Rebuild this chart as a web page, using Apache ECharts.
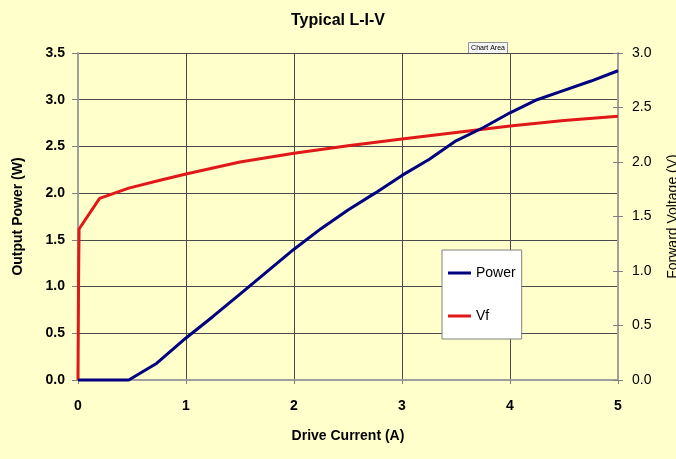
<!DOCTYPE html>
<html>
<head>
<meta charset="utf-8">
<script src="https://cdn.jsdelivr.net/npm/echarts@6/dist/echarts.min.js"></script>
<style>
html,body{margin:0;padding:0;background:#FFFFCC;}
#chart{width:676px;height:459px;}
</style>
</head>
<body>
<div id="chart"></div>
<script>
// Data
const currentTicks = [0, 1, 2, 3, 4, 5];
const powerX = [0, 0.25, 0.47, 0.73, 1.0, 1.25, 1.5, 1.75, 2.0, 2.25, 2.5, 2.75, 3.0, 3.25, 3.5, 3.75, 4.0, 4.25, 4.5, 4.75, 5.0];
const powerY = [0, 0, 0, 0.18, 0.45, 0.68, 0.92, 1.16, 1.40, 1.62, 1.82, 2.0, 2.19, 2.36, 2.56, 2.70, 2.86, 3.0, 3.10, 3.20, 3.31];
const vfX = [0, 0.005, 0.01, 0.2, 0.47, 0.75, 1.0, 1.5, 2.0, 2.5, 3.0, 3.5, 4.0, 4.5, 5.0];
const vfY = [0, 0.9, 1.385, 1.667, 1.76, 1.83, 1.89, 2.0, 2.08, 2.15, 2.21, 2.27, 2.33, 2.38, 2.42];

const powerData = powerX.map((x, i) => [x, powerY[i]]);
const vfData = vfX.map((x, i) => [x, vfY[i]]);

const FONT = '"Liberation Sans", Arial, sans-serif';
const chart = echarts.init(document.getElementById('chart'), null, {renderer: 'canvas'});
chart.setOption({
  backgroundColor: '#FFFFCC',
  animation: false,
  textStyle: {fontFamily: FONT},
  title: {
    text: 'Typical L-I-V',
    left: 'center',
    top: 8,
    textStyle: {fontFamily: FONT, fontSize: 16, fontWeight: 'bold', color: '#000'}
  },
  grid: {left: 78, right: 58, top: 53, bottom: 79, containLabel: false, outerBoundsMode: 'none'},
  legend: {
    orient: 'vertical',
    left: 442,
    top: 250,
    backgroundColor: '#ffffff',
    borderColor: '#808080',
    borderWidth: 1,
    padding: [16, 6, 16, 6],
    itemGap: 29,
    itemWidth: 23,
    itemHeight: 3,
    icon: 'rect',
    textStyle: {fontFamily: FONT, fontSize: 14, color: '#000'},
    data: ['Power', 'Vf']
  },
  xAxis: {
    type: 'value',
    min: 0, max: 5, interval: 1,
    name: 'Drive Current (A)',
    nameLocation: 'middle',
    nameGap: 49,
    nameTextStyle: {fontFamily: FONT, fontSize: 14, fontWeight: 'bold', color: '#000'},
    axisLine: {show: true, lineStyle: {color: '#a0a0a0', width: 2}},
    axisTick: {show: true, inside: false, length: 4, lineStyle: {color: '#808080'}},
    axisLabel: {margin: 19, fontFamily: FONT, fontSize: 14, fontWeight: 'bold', color: '#000',
      formatter: v => String(currentTicks[currentTicks.indexOf(v)] ?? v)},
    splitLine: {show: true, lineStyle: {color: '#4a4a4a', width: 1}}
  },
  yAxis: [
    {
      type: 'value',
      min: 0, max: 3.5, interval: 0.5,
      position: 'left',
      name: 'Output Power (W)',
      nameLocation: 'middle',
      nameGap: 53,
      nameRotate: 90,
      nameTextStyle: {fontFamily: FONT, fontSize: 14, fontWeight: 'bold', color: '#000'},
      axisLine: {show: true, lineStyle: {color: '#a0a0a0', width: 2}},
      axisTick: {show: true, inside: false, length: 6, lineStyle: {color: '#808080'}},
      axisLabel: {margin: 13, fontFamily: FONT, fontSize: 14, fontWeight: 'bold', color: '#000',
        formatter: v => v.toFixed(1)},
      splitLine: {show: true, lineStyle: {color: '#4a4a4a', width: 1}}
    },
    {
      type: 'value',
      min: 0, max: 3, interval: 0.5,
      position: 'right',
      name: 'Forward Voltage (V)',
      nameLocation: 'middle',
      nameGap: 48,
      nameRotate: 90,
      nameTextStyle: {fontFamily: FONT, fontSize: 14, color: '#000'},
      axisLine: {show: true, lineStyle: {color: '#a0a0a0', width: 2}},
      axisTick: {show: true, inside: false, length: 5, lineStyle: {color: '#808080'}},
      axisLabel: {margin: 14, fontFamily: FONT, fontSize: 14, color: '#000',
        formatter: v => v.toFixed(1)},
      splitLine: {show: false}
    },
    {
      type: 'value',
      min: 0, max: 3, interval: 0.5,
      position: 'right',
      axisLine: {show: false},
      axisTick: {show: true, inside: true, length: 5, lineStyle: {color: '#808080'}},
      axisLabel: {show: false},
      splitLine: {show: false}
    }
  ],
  series: [
    {
      name: 'Power',
      type: 'line',
      yAxisIndex: 0,
      data: powerData,
      showSymbol: false,
      clip: false,
      lineStyle: {color: '#000080', width: 3},
      itemStyle: {color: '#000080'},
      z: 3
    },
    {
      name: 'Vf',
      type: 'line',
      yAxisIndex: 1,
      data: vfData,
      showSymbol: false,
      clip: false,
      lineStyle: {color: '#e01818', width: 3},
      itemStyle: {color: '#e01818'},
      z: 2
    }
  ],
  graphic: [
    {
      type: 'group',
      left: 468,
      top: 42,
      children: [
        {type: 'rect', shape: {x: 0, y: 0, width: 39, height: 11},
          style: {fill: '#f4f4f4', stroke: '#909090', lineWidth: 1}},
        {type: 'text', x: 19.5, y: 5.5,
          style: {text: 'Chart Area', fontFamily: FONT, fontSize: 7, fill: '#000',
            align: 'center', verticalAlign: 'middle'}}
      ]
    }
  ]
});
</script>
</body>
</html>
